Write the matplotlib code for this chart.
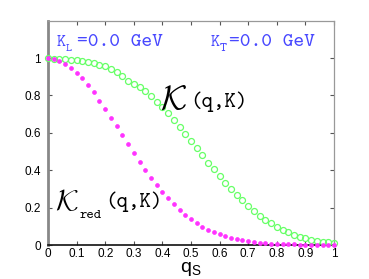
import numpy as np
import matplotlib
matplotlib.use("Agg")
import matplotlib.pyplot as plt

q = [round(0.02 * i, 2) for i in range(51)]

K_full = [1.0, 0.996, 0.995, 0.994, 0.991, 0.989, 0.985, 0.980, 0.974, 0.965,
          0.955, 0.942, 0.928, 0.905, 0.880, 0.862, 0.847, 0.823, 0.796, 0.767,
          0.736, 0.705, 0.668, 0.631, 0.594, 0.554, 0.519, 0.482, 0.441, 0.409,
          0.371, 0.334, 0.301, 0.269, 0.239, 0.209, 0.181, 0.156, 0.135, 0.116,
          0.096, 0.079, 0.068, 0.055, 0.044, 0.036, 0.027, 0.021, 0.018, 0.014,
          0.011]

K_red = [1.0, 0.996, 0.986, 0.969, 0.948, 0.922, 0.891, 0.856, 0.816, 0.773,
         0.728, 0.681, 0.634, 0.586, 0.539, 0.492, 0.446, 0.401, 0.360, 0.320,
         0.284, 0.251, 0.219, 0.189, 0.163, 0.139, 0.117, 0.098, 0.082, 0.068,
         0.057, 0.047, 0.039, 0.032, 0.026, 0.021, 0.017, 0.013, 0.010, 0.008,
         0.006, 0.005, 0.004, 0.003, 0.002, 0.002, 0.001, 0.001, 0.001, 0.0,
         0.0]

xticks = [0, 0.1, 0.2, 0.3, 0.4, 0.5, 0.6, 0.7, 0.8, 0.9, 1]
xticklabels = ["0", "0.1", "0.2", "0.3", "0.4", "0.5", "0.6", "0.7", "0.8", "0.9", "1"]
yticks = [0, 0.2, 0.4, 0.6, 0.8, 1]
yticklabels = ["0", "0.2", "0.4", "0.6", "0.8", "1"]

plt.rcParams['font.family'] = ['Liberation Sans', 'DejaVu Sans']
plt.rcParams['mathtext.fontset'] = 'cm'
MONO = ['cmtt10', 'Liberation Mono', 'DejaVu Sans Mono']

fig = plt.figure(figsize=(3.69, 2.79), dpi=100)
ax = fig.add_axes([48/369, 1-245/279, (334-48)/369, (245-20.7)/279])

ax.plot(q, K_full, linestyle='none', marker='o', markersize=4.3,
        markerfacecolor='none', markeredgecolor='#66ff66', markeredgewidth=0.9,
        clip_on=False, zorder=3)
ax.plot(q, K_red, linestyle='none', marker='o', markersize=2.8,
        markerfacecolor='#ff33ff', markeredgecolor='#ff33ff', markeredgewidth=0.5,
        clip_on=False, zorder=4)

ax.set_xlim(0, 1)
ax.set_ylim(0, 1.2)
ax.set_xticks(xticks)
ax.set_xticklabels(xticklabels)
ax.set_yticks(yticks)
ax.set_yticklabels(yticklabels)
ax.tick_params(axis='both', direction='in', length=3, width=0.8, color='#555555',
               labelsize=8.5, top=True, right=True)
ax.tick_params(axis='x', pad=2)
ax.tick_params(axis='y', pad=5)

for s in ['top', 'right']:
    ax.spines[s].set_color('#999999')
    ax.spines[s].set_linewidth(0.9)
ax.spines['left'].set_color('#888888')
ax.spines['left'].set_linewidth(2.0)
ax.spines['bottom'].set_color('#111111')
ax.spines['bottom'].set_linewidth(1.2)

ax.set_xlabel(r'$\mathregular{q_S}$', fontsize=14, labelpad=0)

renderer = fig.canvas.get_renderer()


def px2data(px, py):
    return (px - 48) / 286.0, (245 - py) / 187.5


def fitted(s, left, right, base, color='black', family=MONO, size=12):
    x, y = px2data(left, base)
    t = ax.text(x, y, s, color=color, fontsize=size, family=family,
                va='baseline', ha='left')
    w = t.get_window_extent(renderer).width
    if w > 0:
        t.set_fontsize(size * (right - left) / w)
    return t


blue = '#4848ff'
# K_L = 0.0 GeV
fitted('K', 56.5, 65.5, 45, blue)
fitted('L', 65.5, 71.5, 50, blue)
fitted('=0.0 GeV', 77, 163, 45, blue)
# K_T = 0.0 GeV
fitted('K', 210.5, 219.5, 45, blue)
fitted('T', 219.5, 226.5, 50, blue)
fitted('=0.0 GeV', 229, 315, 45, blue)

# K(q,K)
fitted(r'$\mathcal{K}$', 160, 189, 108, family=None)
fitted('(q,K)', 190, 247, 107)

# K_red(q,K)
fitted(r'$\mathcal{K}$', 55, 80, 210, family=None)
fitted('red', 80, 102, 218)
fitted('(q,K)', 105, 162, 207)

fig.savefig('out.png', dpi=100)
